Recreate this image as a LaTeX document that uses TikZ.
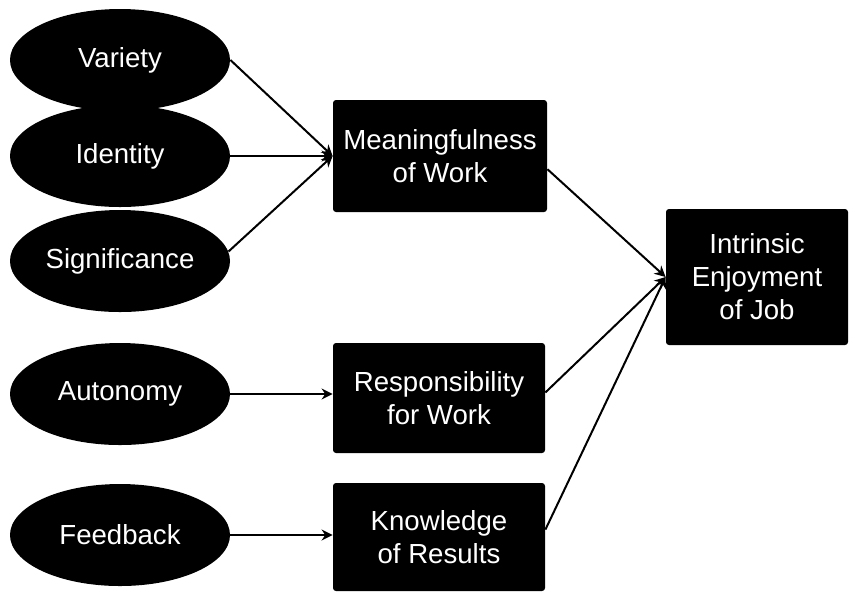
\documentclass[tikz,border=0pt]{standalone}
\usepackage{fontspec}
\setmainfont{Liberation Sans}
\usepackage{tikz}
\usetikzlibrary{arrows.meta,shapes}

\begin{document}
\begin{tikzpicture}[x=0.5pt,y=-0.5pt,
    every node/.style={text=white,font=\fontsize{13.8}{16.5}\selectfont,align=center},
    dim/.style={ellipse,fill=black,inner sep=0pt,minimum width=110pt,minimum height=51pt},
    state/.style={rectangle,fill=black,rounded corners=1.5pt,inner sep=0pt},
    link/.style={line width=1pt,-{Stealth[length=5.5pt,width=5.5pt]}}]
            \useasboundingbox (0,0) rectangle (849,591);
            \node[dim] (var) at (120,60) {Variety};
            \node[dim] (iden) at (120,156) {Identity};
            \node[dim] (sig) at (120,261) {Significance};
            \node[dim] (aut) at (120,394) {Autonomy};
            \node[dim] (feed) at (120,535) {Feedback};
            \node[state,minimum width=107pt,minimum height=56pt] (mean) at (440,156) 
            {Meaningfulness\\of Work};
            \node[state,minimum width=106pt,minimum height=55pt] (resp) at (439,398) 
            {Responsibility\\for Work};
            \node[state,minimum width=106pt,minimum height=54pt] (know) at (439,537) 
            {Knowledge\\of Results};
            \node[state,minimum width=91pt,minimum height=68pt] (intr) at (757,277) 
            {Intrinsic\\Enjoyment\\of Job};
            \draw[link] (var.east) -- (mean.west);
            \draw[link] (iden.east) -- (mean.west);
            \draw[link] (sig.5) -- (mean.west);
            \draw[link] (aut.east) -- (resp.west |- aut.east);
            \draw[link] (feed.east) -- (know.west |- feed.east);
            \draw[link] (mean.-7) -- (intr.west);
            \draw[link] (resp.3) -- (intr.west);
            \draw[link] (know.4) -- (intr.west);
        \end{tikzpicture}
\end{document}
